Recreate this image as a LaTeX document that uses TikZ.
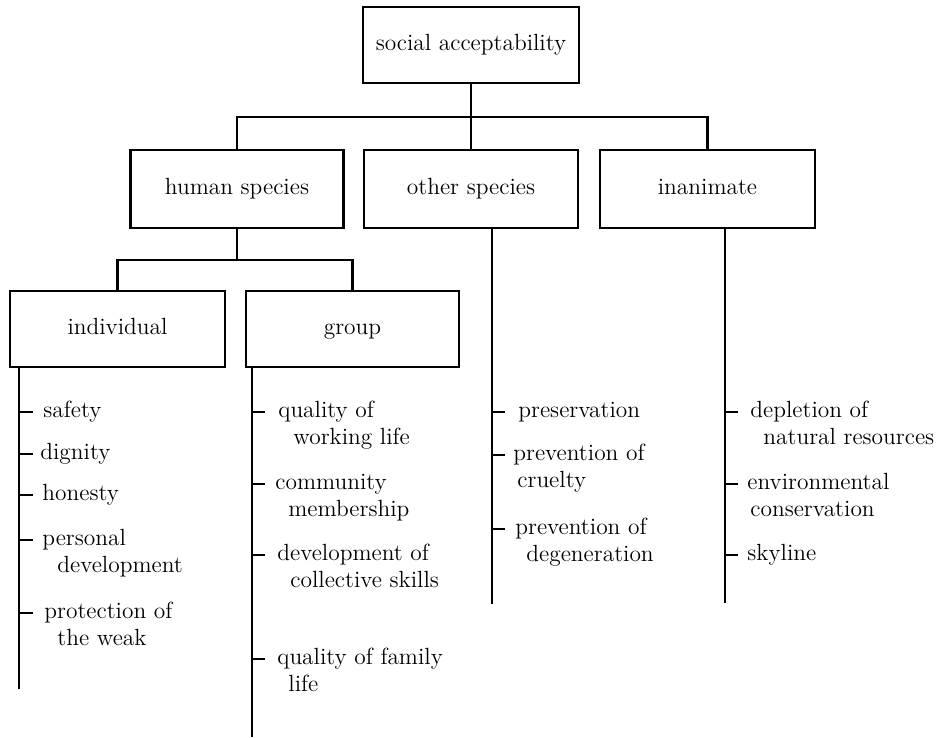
\documentclass[tikz,border=0pt]{standalone}
\newcommand\leaffont{\fontsize{11.7pt}{13.5pt}\selectfont}
\begin{document}
\begin{tikzpicture}[x=0.5pt,y=-0.5pt,
  catbox/.style={draw, line width=1.4pt, inner sep=0pt, font=\leaffont,
                 text height=8pt, text depth=2.6pt},
  link/.style={line width=1.1pt},
  spine/.style={line width=1.2pt},
  leaftick/.style={line width=1.4pt},
  leaf/.style={anchor=base west, align=left, inner sep=0pt, font=\leaffont}]
\useasboundingbox (0,0) rectangle (942,738);

% category boxes
\node[catbox, minimum width=108pt,   minimum height=38pt] (top)  at (471,45)    {social acceptability};
\node[catbox, minimum width=106.5pt, minimum height=39pt] (hum)  at (237,189)   {human species};
\node[catbox, minimum width=107pt,   minimum height=39pt] (oth)  at (471,189)   {other species};
\node[catbox, minimum width=107.5pt, minimum height=39pt] (inan) at (707.5,189) {inanimate};
\node[catbox, minimum width=107.5pt, minimum height=38pt] (ind)  at (117.5,329) {individual};
\node[catbox, minimum width=106.5pt, minimum height=38pt] (grp)  at (352.5,329) {group};

% tree connectors
\coordinate (bus)  at (471,117);
\coordinate (hbus) at (237,260);
\draw[link] (top.south) -- (oth.north);
\draw[link] (hum.north) |- (bus) -| (inan.north);
\draw[link] (hum.south) -- (hbus);
\draw[link] (ind.north) |- (hbus) -| (grp.north);

% spine ends
\coordinate (sInd)  at (19,689);
\coordinate (sGrp)  at (252,737);
\coordinate (sOth)  at (492,604);
\coordinate (sInan) at (725,603);
\draw[spine] (ind.south -| sInd)   -- (sInd);
\draw[spine] (grp.south -| sGrp)   -- (sGrp);
\draw[spine] (oth.south -| sOth)   -- (sOth);
\draw[spine] (inan.south -| sInan) -- (sInan);

% leaves: a node's base is the baseline of its last line,
% so two-line leaves are placed one line (27) below their first line

% individual
\node[leaf] (i1) at (43,417) {safety};
\node[leaf] (i2) at (40,459) {dignity};
\node[leaf] (i3) at (42,500) {honesty};
\node[leaf] (i4) at (42,572) {personal\\\hspace*{7.5pt}development};
\node[leaf] (i5) at (44,645) {protection of\\\hspace*{6.5pt}the weak};
\foreach \n in {i1,i2,i3}
  \draw[leaftick] (sInd |- \n.base) ++(0,-5) -- ++(14,0);
\foreach \n in {i4,i5}
  \draw[leaftick] (sInd |- \n.base) ++(0,-32) -- ++(14,0);

% group
\node[leaf] (g1) at (278,444) {quality of\\\hspace*{7.5pt}working life};
\node[leaf] (g2) at (275,516) {community\\\hspace*{6.5pt}membership};
\node[leaf] (g3) at (277,587) {development of\\\hspace*{6.5pt}collective skills};
\node[leaf] (g4) at (277,691) {quality of family\\\hspace*{5.5pt}life};
\foreach \n in {g1,g2,g3,g4}
  \draw[leaftick] (sGrp |- \n.base) ++(0,-32) -- ++(13,0);

% other species
\node[leaf] (o1) at (518,417) {preservation};
\node[leaf] (o2) at (513,487) {prevention of\\\hspace*{2pt}cruelty};
\node[leaf] (o3) at (515,561) {prevention of\\\hspace*{5.5pt}degeneration};
\draw[leaftick] (sOth |- o1.base) ++(0,-5) -- ++(13,0);
\foreach \n in {o2,o3}
  \draw[leaftick] (sOth |- \n.base) ++(0,-32) -- ++(13,0);

% inanimate
\node[leaf] (n1) at (750,444) {depletion of\\\hspace*{6.5pt}natural resources};
\node[leaf] (n2) at (747,516) {environmental\\\hspace*{1.5pt}conservation};
\node[leaf] (n3) at (747,560) {skyline};
\foreach \n in {n1,n2}
  \draw[leaftick] (sInan |- \n.base) ++(0,-32) -- ++(13,0);
\draw[leaftick] (sInan |- n3.base) ++(0,-5) -- ++(13,0);
\end{tikzpicture}
\end{document}
